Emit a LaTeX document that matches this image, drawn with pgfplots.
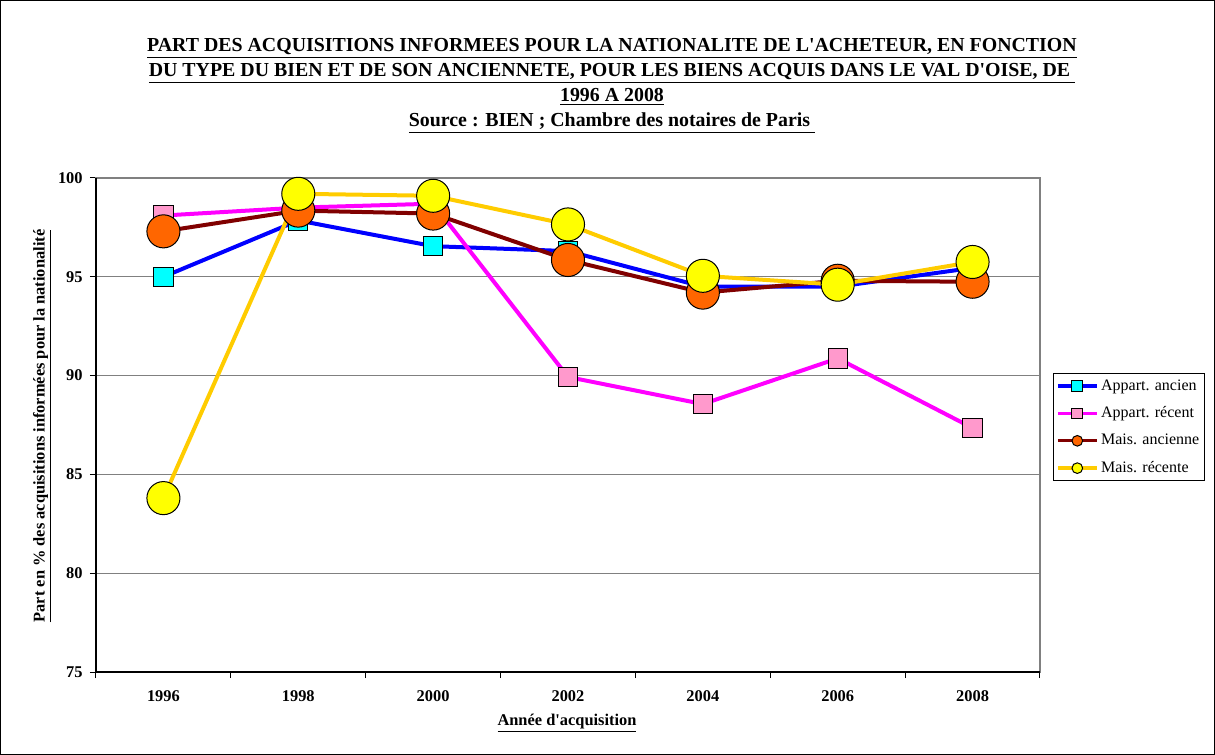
\documentclass[border=0pt]{standalone}
\usepackage{fontspec}
\setmainfont{Liberation Serif}
\usepackage{pgfplots}
\pgfplotsset{compat=1.18}
\definecolor{cBlue}{RGB}{0,0,255}
\definecolor{cCyan}{RGB}{0,255,255}
\definecolor{cMag}{RGB}{255,0,255}
\definecolor{cPink}{RGB}{255,153,204}
\definecolor{cDRed}{RGB}{128,0,0}
\definecolor{cOrange}{RGB}{255,102,0}
\definecolor{cGold}{RGB}{255,204,0}
\definecolor{cYellow}{RGB}{255,255,0}
\begin{document}
\begin{tikzpicture}
\path[use as bounding box] (0pt,0pt) rectangle (911.25pt,-566.25pt);
\draw[line width=0.9pt] (0.45pt,-0.45pt) rectangle (910.8pt,-565.8pt);
\begin{scope}[font=\bfseries\fontsize{14.9}{18}\selectfont]
\node[anchor=base, inner sep=0pt] at (459pt,-39pt) {\underline{PART DES ACQUISITIONS INFORMEES POUR LA NATIONALITE DE L\textquotesingle ACHETEUR, EN FONCTION}};
\node[anchor=base, inner sep=0pt] at (459pt,-57.75pt) {\underline{DU TYPE DU BIEN ET DE SON ANCIENNETE, POUR LES BIENS ACQUIS DANS LE VAL D\textquotesingle OISE, DE\ }};
\node[anchor=base, inner sep=0pt] at (459pt,-76.5pt) {\underline{1996 A 2008}};
\node[anchor=base, inner sep=0pt] at (459pt,-95.25pt) {\underline{Source : BIEN ; Chambre des notaires de Paris\ }};
\end{scope}
\node[rotate=90, inner sep=0pt, font=\bfseries\fontsize{12.3}{14}\selectfont] at (31.5pt,-319.5pt) {\underline{Part en \% des acquisitions informées pour la nationalité}};
\node[inner sep=0pt, font=\bfseries\fontsize{12.3}{14}\selectfont] at (425.25pt,-542.25pt) {\underline{Année d\textquotesingle acquisition}};
\begin{axis}[
  at={(72pt,-504pt)}, anchor=south west,
  width=708pt, height=370.5pt, scale only axis,
  xmin=-0.5, xmax=6.5, ymin=75, ymax=100,
  xtick={-0.5,0.5,...,6.5},
  x tick label as interval,
  xticklabels={1996,1998,2000,2002,2004,2006,2008},
  ytick={75,80,...,100},
  ymajorgrids, grid style={black!50, line width=0.9pt},
  tick align=outside, tick pos=left,
  major tick length=4.5pt,
  tick style={black, line width=0.75pt},
  axis line style={black!50, line width=0.9pt},
  /pgf/number format/assume math mode=true,
  ticklabel style={font=\bfseries\fontsize{12.3}{14}\selectfont},
  xticklabel style={yshift=-6pt},
  yticklabel style={xshift=-2pt},
  clip=false,
  legend style={at={(1.0138,0.6053)}, anchor=north west, draw=black, line width=0.75pt,
    font=\fontsize{12}{14}\selectfont, row sep=5.5pt, inner sep=2pt,
    nodes={text height=8.5pt, text depth=2.5pt, inner sep=2pt}},
  legend cell align=left,
  legend image code/.code={\draw[mark repeat=2,mark phase=2] plot coordinates {(0pt,0pt)(14.6pt,0pt)(29.2pt,0pt)};},
  legend image post style={mark size=4pt, line width=2.5pt},
]
\addplot[cBlue, line width=3pt, mark=square*, mark size=7.25pt, mark options={fill=cCyan, draw=black, line width=0.75pt}]
  coordinates {(0,95.0)(1,97.85)(2,96.55)(3,96.3)(4,94.5)(5,94.5)(6,95.45)};
\addlegendentry{Appart. ancien}
\addplot[cMag, line width=3pt, mark=square*, mark size=7.25pt, mark options={fill=cPink, draw=black, line width=0.75pt}]
  coordinates {(0,98.1)(1,98.5)(2,98.7)(3,89.93)(4,88.56)(5,90.87)(6,87.35)};
\addlegendentry{Appart. récent}
\addplot[cDRed, line width=3pt, mark=*, mark size=12.4pt, mark options={fill=cOrange, draw=black, line width=0.75pt}]
  coordinates {(0,97.3)(1,98.35)(2,98.2)(3,95.85)(4,94.2)(5,94.8)(6,94.75)};
\addlegendentry{Mais. ancienne}
\addplot[cGold, line width=3pt, mark=*, mark size=12.4pt, mark options={fill=cYellow, draw=black, line width=0.75pt}]
  coordinates {(0,83.8)(1,99.2)(2,99.1)(3,97.65)(4,95.05)(5,94.6)(6,95.75)};
\addlegendentry{Mais. récente}
\draw[black, line width=0.9pt] (rel axis cs:0,1) -- (rel axis cs:0,0) -- (rel axis cs:1,0);
\end{axis}
\end{tikzpicture}
\end{document}
